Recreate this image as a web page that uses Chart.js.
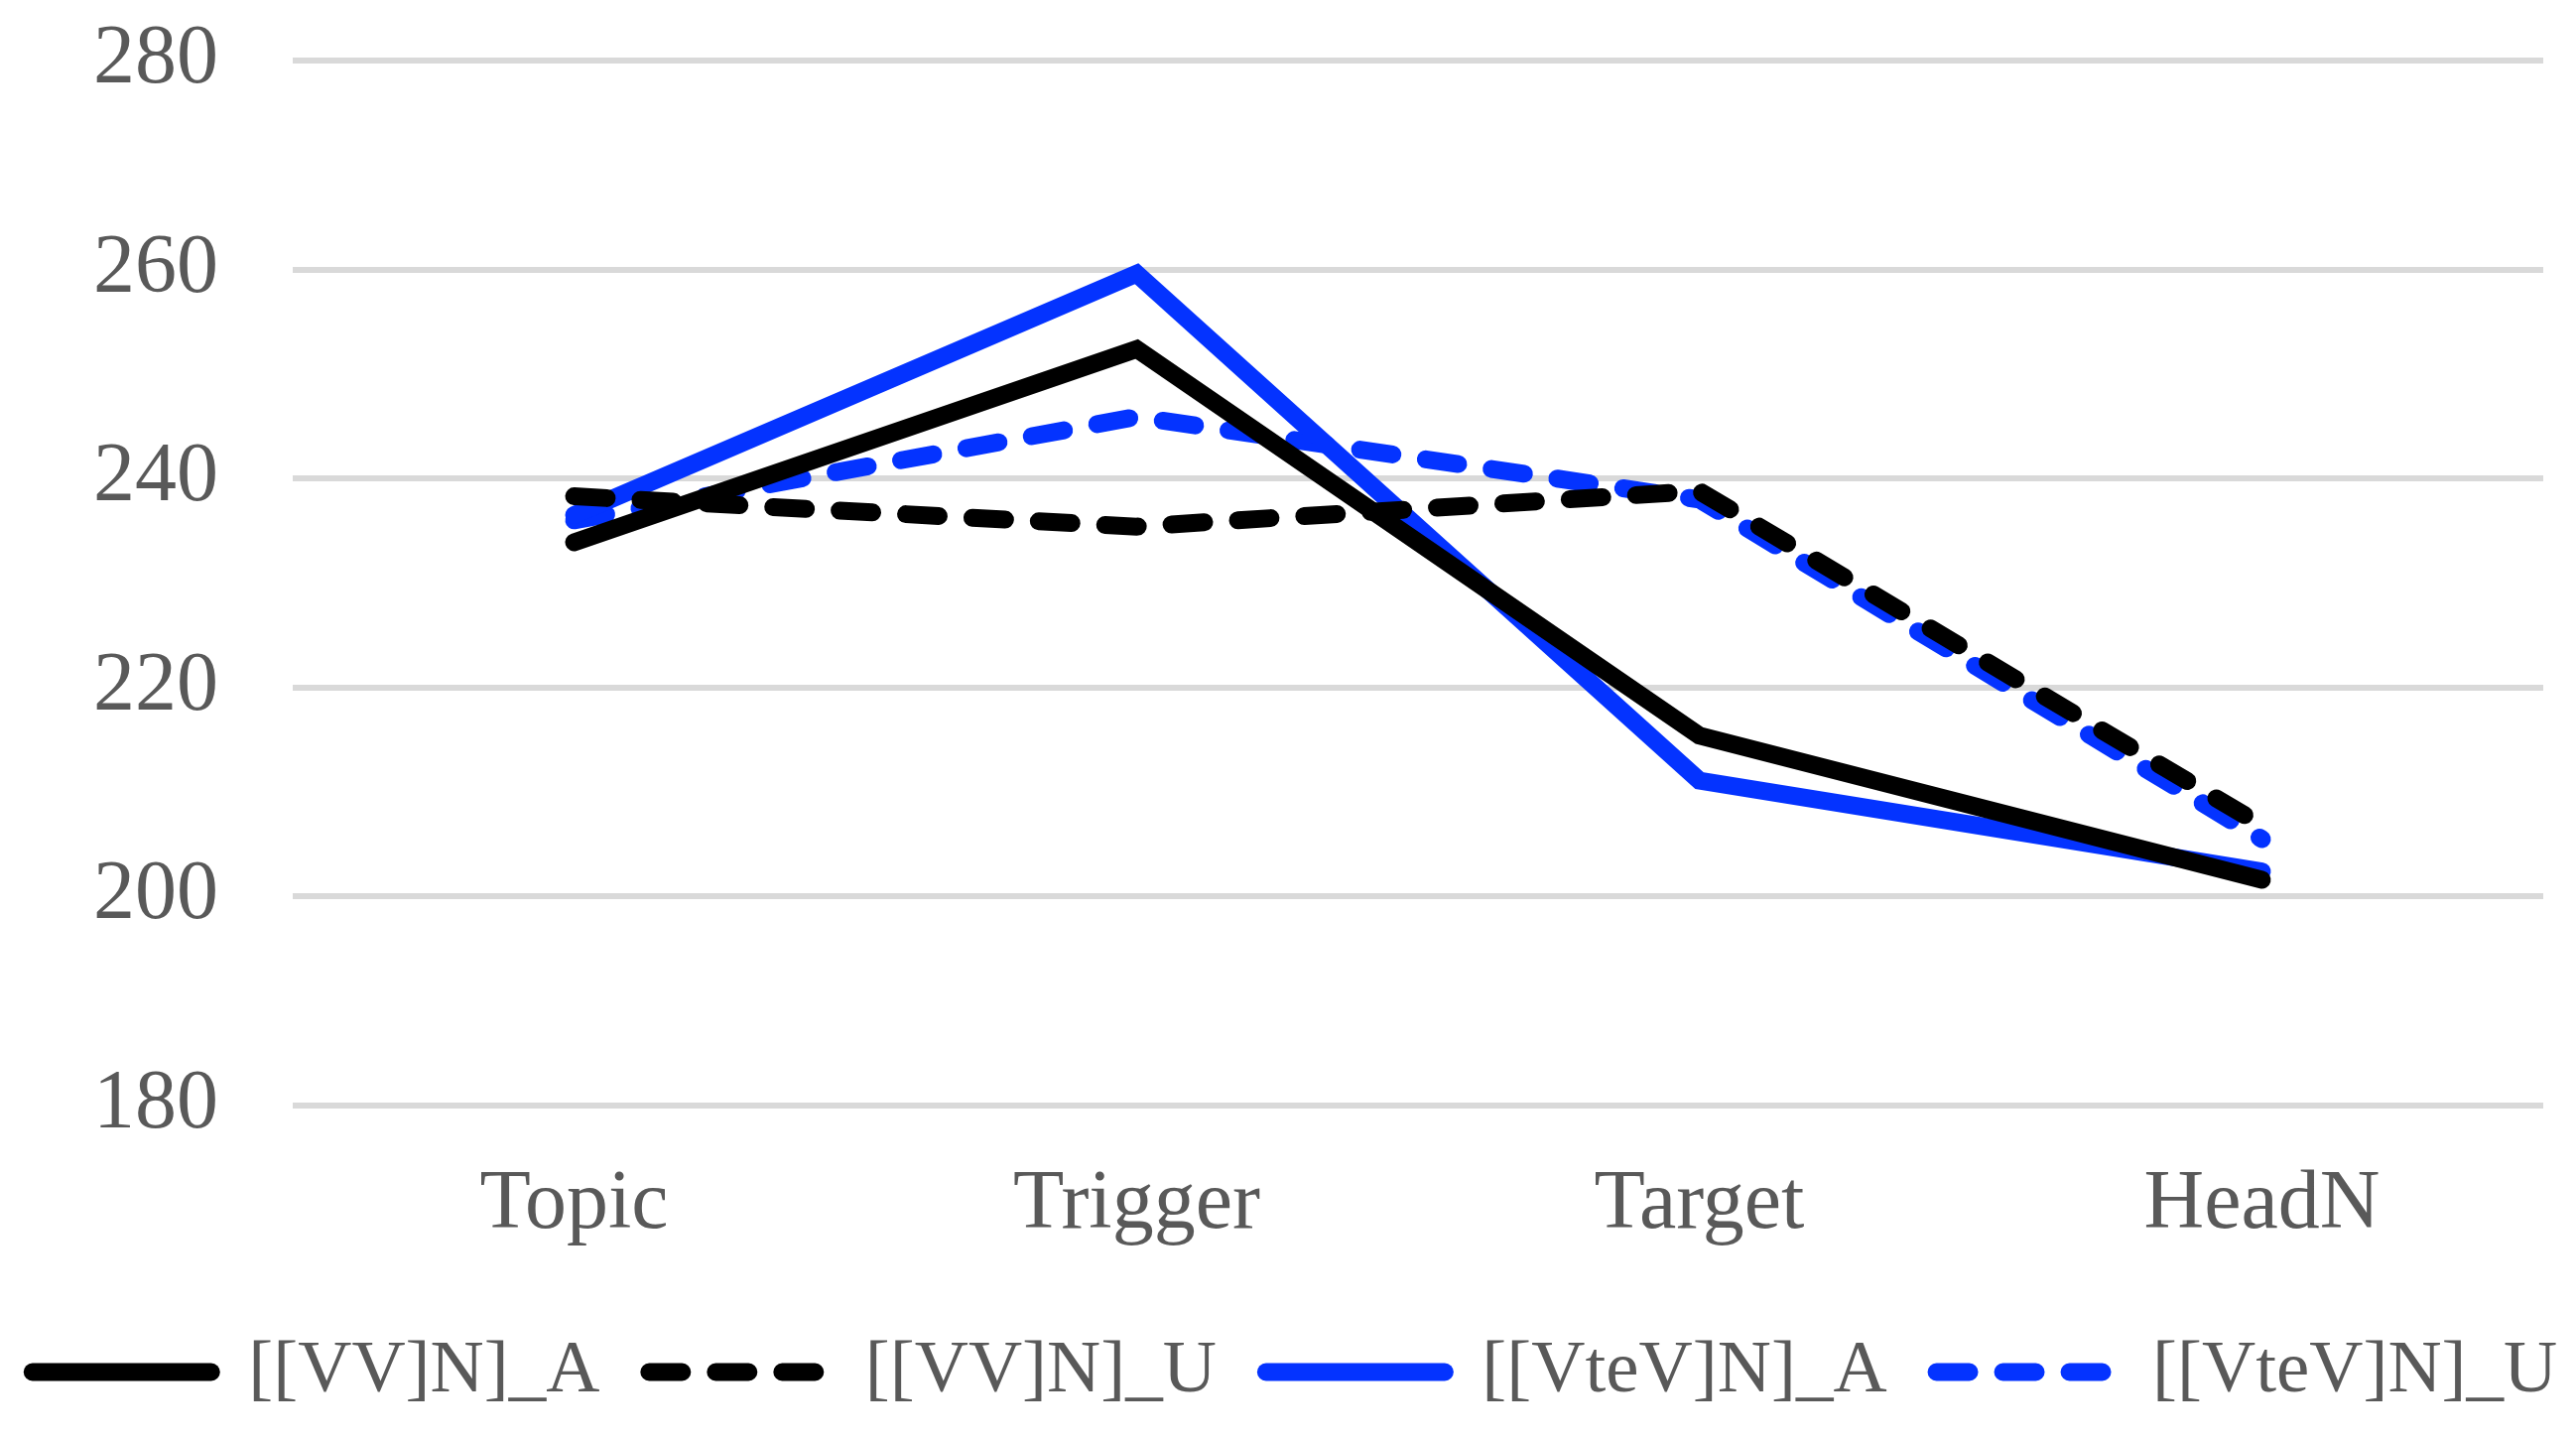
<!doctype html>
<html lang="en">
  <head>
    <title>Line chart</title>
    <style>
      html, body { margin: 0; padding: 0; background: #fff; }
      #wrap { width: 2596px; height: 1452px; }
    </style>
  </head>
  <body>
  <div id="wrap"><canvas id="chart"></canvas></div>
  <script src="https://cdn.jsdelivr.net/npm/chart.js"></script>
  <script>

    const categories = ['Topic', 'Trigger', 'Target', 'HeadN'];
    const yTicks = [180, 200, 220, 240, 260, 280];

    const vvA = [233.9, 252.4, 215.4, 201.6];
    const vvU = [238.3, 235.4, 238.8, 206.8];
    const vtevA = [236.5, 259.6, 211.1, 202.4];
    const vtevU = [236.0, 245.9, 238.0, 205.5];

    const seriesNames = ['[[VV]N]_A', '[[VV]N]_U', '[[VteV]N]_A', '[[VteV]N]_U'];

    const BLUE = '#0433ff';
    const dash = [33, 34];

    function line(label, data, color, dashed) {
        return {
            label: label,
            data: data,
            borderColor: color,
            backgroundColor: color,
            borderWidth: 18,
            borderDash: dashed ? dash : [],
            borderCapStyle: 'round',
            borderJoinStyle: 'miter',
            pointRadius: 0,
            pointHoverRadius: 0,
            tension: 0,
            fill: false
        };
    }

    Chart.defaults.font.family = "'Liberation Serif', 'Times New Roman', serif";
    Chart.defaults.color = '#595959';

    new Chart(document.getElementById('chart'), {
        type: 'line',
        data: {
            labels: categories,
            datasets: [
                line(seriesNames[0], vvA, '#000000', false),
                line(seriesNames[1], vvU, '#000000', true),
                line(seriesNames[2], vtevA, BLUE, false),
                line(seriesNames[3], vtevU, BLUE, true)
            ]
        },
        options: {
            responsive: true,
            maintainAspectRatio: false,
            devicePixelRatio: 1,
            animation: false,
            // negative sides give the one-row legend enough room
            layout: { padding: { top: 0, left: -43, right: -57, bottom: 22 } },
            scales: {
                x: {
                    offset: true,
                    grid: { display: false, drawTicks: false },
                    border: { display: false },
                    ticks: { font: { size: 84 }, padding: 51, maxRotation: 0 },
                    afterFit: axis => {
                        axis.height = 181;
                        axis.paddingLeft = 0;
                        axis.paddingRight = 33;
                    }
                },
                y: {
                    min: yTicks[0],
                    max: yTicks[yTicks.length - 1],
                    afterBuildTicks: axis => { axis.ticks = yTicks.map(v => ({ value: v })); },
                    grid: { color: '#d9d9d9', lineWidth: 6, drawTicks: false },
                    border: { display: false },
                    ticks: { font: { size: 84 }, padding: 75 },
                    afterFit: axis => {
                        axis.width = 338;
                        axis.paddingTop = 61;
                        axis.paddingBottom = 0;
                    }
                }
            },
            plugins: {
                tooltip: { enabled: false },
                legend: {
                    position: 'bottom',
                    labels: {
                        font: { size: 75 },
                        usePointStyle: true,
                        pointStyleWidth: 180,
                        padding: 50,
                        color: '#595959',
                        generateLabels: chart => {
                            const items = Chart.defaults.plugins.legend.labels.generateLabels(chart);
                            items.forEach(it => {
                                const ds = chart.data.datasets[it.datasetIndex];
                                it.pointStyle = 'line';
                                it.lineWidth = 18;
                                it.lineCap = 'round';
                                it.lineDash = ds.borderDash;
                                it.strokeStyle = ds.borderColor;
                            });
                            return items;
                        }
                    }
                }
            }
        }
    });

  </script>
  </body>
</html>
